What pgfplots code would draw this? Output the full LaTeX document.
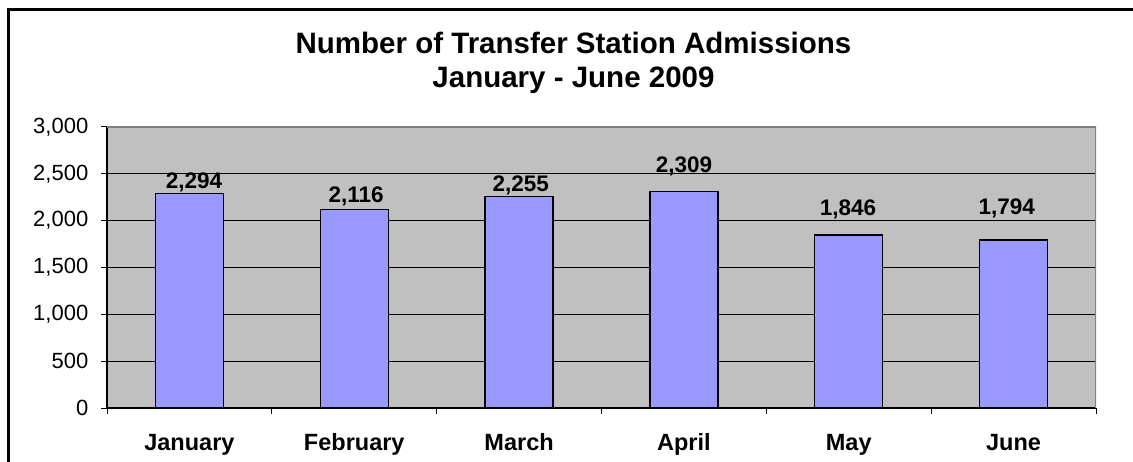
\documentclass[border=0pt]{standalone}
\usepackage{fontspec}
\setmainfont{Liberation Sans}
\usepackage{pgfplots}
\pgfplotsset{compat=1.18}

\definecolor{plotbg}{HTML}{C0C0C0}
\definecolor{barfill}{HTML}{9999FF}
\definecolor{frameg}{HTML}{808080}

\begin{document}
\begin{tikzpicture}
\useasboundingbox (0,0) rectangle (1133pt,461pt);
% outer chart frame (cut at right and bottom in the reference)
\draw[line width=3pt] (8.8pt,-5pt) -- (8.8pt,451.8pt) -- (1140pt,451.8pt);
% title
\node[anchor=base, font=\fontsize{29.5}{34}\selectfont\bfseries] at (573.5pt,407pt) {Number of Transfer Station Admissions};
\node[anchor=base, font=\fontsize{29.5}{34}\selectfont\bfseries] at (573.5pt,373.5pt) {January - June 2009};

\begin{axis}[
    at={(107pt,53pt)}, anchor=south west,
    scale only axis,
    width=989pt, height=281pt,
    xmin=-0.5, xmax=5.5,
    ymin=0, ymax=3000,
    ytick={0,500,1000,1500,2000,2500,3000},
    xtick={-0.5,0.5,1.5,2.5,3.5,4.5,5.5},
    xticklabels={},
    extra x ticks={0,1,2,3,4,5},
    extra x tick labels={January,February,March,April,May,June},
    extra x tick style={major tick length=0pt,
        tick label style={anchor=base, yshift=-42.5pt, font=\fontsize{23.5}{27}\selectfont\bfseries}},
    tick align=outside,
    major tick length=5.5pt,
    tick style={black, line width=1pt},
    axis x line*=bottom, axis y line*=left,
    axis line style={black, line width=1.2pt},
    ymajorgrids,
    grid style={black, line width=0.9pt},
    axis background/.style={fill=plotbg},
    yticklabel style={font=\fontsize{22}{26}\selectfont, anchor=east, inner sep=0pt, xshift=-13pt},
    /pgf/number format/.cd, 1000 sep={,}, assume math mode=true,
]
\addplot[ybar, bar width=68pt, bar shift=0pt, fill=barfill, draw=black, line width=1.2pt]
    coordinates {(0,2294) (1,2116) (2,2255) (3,2309) (4,1846) (5,1794)};
% data labels, placed where the reference has them
\addplot[draw=none, mark=none, nodes near coords, point meta=explicit symbolic,
    every node near coord/.append style={anchor=base, inner sep=0pt, yshift=0pt,
        font=\fontsize{22.5}{26}\selectfont\bfseries}]
    table[meta=lab] {
x y lab
0.028 2346 2,294
1.011 2192 2,116
2.010 2310 2,255
3.000 2516 2,309
3.996 2050 1,846
4.958 2071 1,794
};
\draw[frameg, line width=2pt] (rel axis cs:0,1) -- (rel axis cs:1,1) -- (rel axis cs:1,0);
\end{axis}
\end{tikzpicture}
\end{document}
